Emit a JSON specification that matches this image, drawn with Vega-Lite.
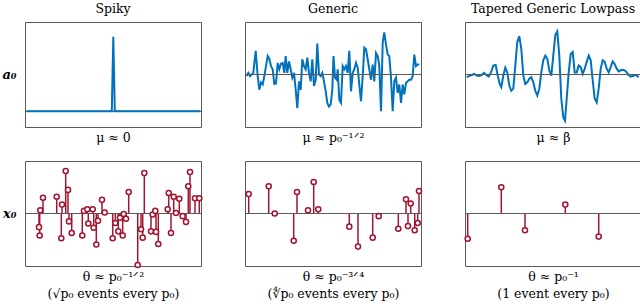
{
  "$schema": "https://vega.github.io/schema/vega-lite/v6.json",
  "padding": {"left": 1, "top": 2, "right": 0, "bottom": 2},
  "config": {
    "font": "DejaVu Serif",
    "view": {"stroke": "#5a5a5a", "strokeWidth": 1},
    "title": {"font": "DejaVu Serif", "fontSize": 12.5, "fontWeight": "normal", "color": "#000", "offset": 7},
    "axis": {"domain": false, "ticks": false, "labels": false, "grid": false, "titleFont": "DejaVu Serif", "titleFontWeight": "normal", "titleFontSize": 12.5, "titleColor": "#000", "titlePadding": 4, "titleLineHeight": 17}
  },
  "datasets": {
    "spiky": [
      {"x": 1.7, "y": 0}, {"x": 86.8, "y": 0}, {"x": 88.3, "y": 1}, {"x": 89.8, "y": 0}, {"x": 175, "y": 0}
    ],
    "generic": [
      {"x": 1.7, "y": -0.03}, {"x": 3.3, "y": 0.03}, {"x": 5, "y": -0.03}, {"x": 6.7, "y": 0}, {"x": 8.3, "y": 0.03},
      {"x": 10.7, "y": 0.45}, {"x": 12.7, "y": -0.03}, {"x": 14.3, "y": -0.29}, {"x": 16, "y": -0.15}, {"x": 17.7, "y": -0.19},
      {"x": 19.3, "y": -0.03}, {"x": 21, "y": 0.16}, {"x": 22.7, "y": 0.35}, {"x": 24.3, "y": 0.3}, {"x": 26, "y": 0.16},
      {"x": 27.7, "y": 0.1}, {"x": 29.3, "y": -0.18}, {"x": 31, "y": -0.17}, {"x": 32.7, "y": 0.22}, {"x": 34.3, "y": 0.1},
      {"x": 36, "y": 0.21}, {"x": 37.7, "y": 0.22}, {"x": 39.3, "y": 0.03}, {"x": 40.7, "y": 0.35}, {"x": 42.3, "y": 0.03},
      {"x": 44, "y": 0.25}, {"x": 45.7, "y": 0.1}, {"x": 47.3, "y": -0.06}, {"x": 49, "y": 0.03}, {"x": 50.7, "y": -0.29},
      {"x": 52.3, "y": -0.64}, {"x": 54, "y": -0.13}, {"x": 55.7, "y": -0.29}, {"x": 57.3, "y": 0.29}, {"x": 59, "y": 0.16},
      {"x": 60.7, "y": 0.1}, {"x": 62.3, "y": 0.32}, {"x": 64, "y": 0.03}, {"x": 65.7, "y": -0.13}, {"x": 67.3, "y": 0.29},
      {"x": 69, "y": -0.22}, {"x": 70.7, "y": -0.1}, {"x": 72.3, "y": 0.59}, {"x": 74, "y": 0}, {"x": 75.7, "y": -0.03},
      {"x": 77.3, "y": 0.03}, {"x": 79, "y": -0.13}, {"x": 80.7, "y": -0.32}, {"x": 82.3, "y": -0.54}, {"x": 84, "y": -0.61},
      {"x": 85.7, "y": -0.57}, {"x": 87.3, "y": -0.29}, {"x": 88.5, "y": 0.35}, {"x": 90, "y": -0.06}, {"x": 91.7, "y": -0.1},
      {"x": 92.7, "y": 0.1}, {"x": 94.3, "y": -0.48}, {"x": 96, "y": -0.54}, {"x": 97.7, "y": 0.16}, {"x": 99.3, "y": 0.1},
      {"x": 101, "y": 0.16}, {"x": 102.7, "y": 0.03}, {"x": 104.3, "y": 0.45}, {"x": 106, "y": -0.32}, {"x": 107.7, "y": 0.03},
      {"x": 109.3, "y": 0.1}, {"x": 111, "y": 0.22}, {"x": 112.7, "y": 0.13}, {"x": 114.3, "y": -0.19}, {"x": 116, "y": -0.51},
      {"x": 117.7, "y": -0.03}, {"x": 119.3, "y": 0.51}, {"x": 121, "y": 0.48}, {"x": 122.7, "y": 0.29}, {"x": 124.3, "y": 0.1},
      {"x": 126, "y": -0.1}, {"x": 127.7, "y": 0.19}, {"x": 129.3, "y": -0.13}, {"x": 131, "y": 0.41}, {"x": 132.7, "y": 0.35},
      {"x": 134.3, "y": 0.16}, {"x": 136, "y": -0.7}, {"x": 137.7, "y": 0.61}, {"x": 139.3, "y": 0.8}, {"x": 141, "y": 0.57},
      {"x": 142.7, "y": 0.38}, {"x": 144.3, "y": 0.35}, {"x": 146, "y": -0.06}, {"x": 147.7, "y": -0.7}, {"x": 149.3, "y": -0.13},
      {"x": 151, "y": -0.06}, {"x": 152.7, "y": -0.35}, {"x": 154.3, "y": -0.19}, {"x": 156, "y": -0.54}, {"x": 157.7, "y": -0.19},
      {"x": 159.3, "y": -0.38}, {"x": 161, "y": -0.16}, {"x": 162.7, "y": -0.13}, {"x": 164.3, "y": -0.1}, {"x": 166, "y": -0.1},
      {"x": 167.7, "y": -0.03}, {"x": 169.3, "y": 0.38}, {"x": 171, "y": 0.16}, {"x": 172.7, "y": 0.19}, {"x": 174.3, "y": 0.19}
    ],
    "tapered": [
      {"x": 1.7, "y": -0.05}, {"x": 4, "y": -0.03}, {"x": 6.7, "y": -0.01}, {"x": 9.3, "y": 0.01}, {"x": 11.7, "y": -0.02},
      {"x": 14, "y": -0.03}, {"x": 16.7, "y": -0.01}, {"x": 19, "y": 0.03}, {"x": 21.3, "y": -0.01}, {"x": 23.7, "y": -0.04},
      {"x": 26, "y": 0.04}, {"x": 28.3, "y": 0.17}, {"x": 30.7, "y": 0.18}, {"x": 32.7, "y": -0.02}, {"x": 34.7, "y": -0.18},
      {"x": 36.3, "y": -0.24}, {"x": 38.3, "y": -0.02}, {"x": 40.3, "y": 0.13}, {"x": 42.3, "y": 0.04}, {"x": 44.3, "y": -0.21},
      {"x": 46.3, "y": -0.31}, {"x": 48.3, "y": -0.27}, {"x": 50.3, "y": 0.17}, {"x": 52.3, "y": 0.62}, {"x": 54.3, "y": 0.73},
      {"x": 56.3, "y": 0.49}, {"x": 58.3, "y": -0.02}, {"x": 60.3, "y": -0.18}, {"x": 62.3, "y": -0.15}, {"x": 64.3, "y": -0.08},
      {"x": 66.3, "y": -0.05}, {"x": 68.3, "y": -0.15}, {"x": 70.3, "y": -0.31}, {"x": 72.3, "y": -0.4}, {"x": 74.3, "y": -0.27},
      {"x": 76.3, "y": 0.04}, {"x": 78.3, "y": 0.27}, {"x": 80.3, "y": 0.36}, {"x": 82.3, "y": 0.3}, {"x": 84.3, "y": 0.08},
      {"x": 86.3, "y": -0.02}, {"x": 88.3, "y": 0.36}, {"x": 90.3, "y": 0.75}, {"x": 92.3, "y": 0.82}, {"x": 94.3, "y": 0.36},
      {"x": 96.3, "y": -0.46}, {"x": 98.3, "y": -0.82}, {"x": 100, "y": -0.88}, {"x": 101.7, "y": -0.46}, {"x": 103.7, "y": 0.04},
      {"x": 105.7, "y": 0.39}, {"x": 107.7, "y": 0.43}, {"x": 109.7, "y": 0.04}, {"x": 111.7, "y": 0.04}, {"x": 113.7, "y": 0.17},
      {"x": 115.7, "y": 0.14}, {"x": 117.7, "y": 0.01}, {"x": 119.7, "y": 0.11}, {"x": 121.7, "y": 0.24}, {"x": 123.7, "y": 0.36},
      {"x": 125.7, "y": 0.27}, {"x": 127.7, "y": -0.11}, {"x": 129.7, "y": -0.46}, {"x": 131.7, "y": -0.53}, {"x": 133.7, "y": -0.27},
      {"x": 135.7, "y": 0.11}, {"x": 137.7, "y": 0.27}, {"x": 139.7, "y": 0.24}, {"x": 141.7, "y": 0.11}, {"x": 143.7, "y": 0.04},
      {"x": 145.7, "y": 0.14}, {"x": 147.7, "y": 0.25}, {"x": 149.7, "y": 0.2}, {"x": 151.7, "y": 0.11}, {"x": 153.7, "y": 0.06},
      {"x": 155.7, "y": 0.08}, {"x": 157.7, "y": 0.09}, {"x": 159.7, "y": 0.08}, {"x": 161.7, "y": 0.04}, {"x": 163.7, "y": -0.01},
      {"x": 165.7, "y": -0.04}, {"x": 167.7, "y": -0.03}, {"x": 169.7, "y": -0.01}, {"x": 171.7, "y": -0.02}, {"x": 173.7, "y": -0.05}
    ],
    "spikyEvents": [
      {"x": 14, "y": -0.26}, {"x": 14.7, "y": -0.42}, {"x": 15.3, "y": 0.06}, {"x": 18, "y": 0.3}, {"x": 31.7, "y": 0.32},
      {"x": 36.3, "y": -0.47}, {"x": 37, "y": 0.17}, {"x": 40.7, "y": 0.81}, {"x": 43, "y": 0.45}, {"x": 44, "y": -0.15},
      {"x": 46.7, "y": -0.37}, {"x": 57.3, "y": -0.42}, {"x": 59, "y": 0.05}, {"x": 62.3, "y": 0.08}, {"x": 63.3, "y": -0.19},
      {"x": 67.7, "y": 0.08}, {"x": 68.7, "y": -0.27}, {"x": 71.3, "y": -0.59}, {"x": 73, "y": -0.14}, {"x": 77, "y": 0.26},
      {"x": 79.7, "y": 0.02}, {"x": 87.7, "y": -0.47}, {"x": 90.3, "y": -0.18}, {"x": 93.3, "y": -0.34}, {"x": 95, "y": -0.08},
      {"x": 97.7, "y": -0.42}, {"x": 98.7, "y": -0.01}, {"x": 101, "y": -0.1}, {"x": 103.7, "y": 0.41}, {"x": 112.7, "y": -0.98},
      {"x": 116, "y": -0.3}, {"x": 117.7, "y": -0.46}, {"x": 119.3, "y": 0.77}, {"x": 126, "y": -0.34}, {"x": 127.7, "y": -0.02},
      {"x": 130.3, "y": 0.05}, {"x": 131, "y": -0.35}, {"x": 133.3, "y": -0.58}, {"x": 142.7, "y": 0.08}, {"x": 143.7, "y": 0.39},
      {"x": 146, "y": -0.37}, {"x": 148.7, "y": 0.32}, {"x": 151, "y": 0.01}, {"x": 154.3, "y": 0.28}, {"x": 157.7, "y": -0.05},
      {"x": 161, "y": -0.16}, {"x": 163.3, "y": 0.52}, {"x": 165, "y": 0.79}, {"x": 170, "y": 0.29}, {"x": 174.3, "y": 0.29}
    ],
    "genericEvents": [
      {"x": 3.7, "y": 0.37}, {"x": 23.7, "y": 0.52}, {"x": 29.7, "y": 0}, {"x": 48.7, "y": -0.52}, {"x": 52, "y": 0.41},
      {"x": 63, "y": 0.06}, {"x": 68.7, "y": 0.6}, {"x": 73.3, "y": 0.08}, {"x": 104.3, "y": -0.25}, {"x": 113, "y": -0.63},
      {"x": 127.7, "y": -0.46}, {"x": 133.7, "y": -0.05}, {"x": 153.3, "y": -0.29}, {"x": 161, "y": 0.27}, {"x": 163, "y": -0.24},
      {"x": 165.7, "y": 0.19}, {"x": 169.7, "y": -0.32}, {"x": 172.7, "y": -0.18}, {"x": 174, "y": 0.43}
    ],
    "taperedEvents": [
      {"x": 2.7, "y": -0.48}, {"x": 36.3, "y": 0.5}, {"x": 60, "y": -0.32}, {"x": 100.3, "y": 0.17}, {"x": 133.7, "y": -0.44}
    ],
    "zero": [{"y": 0}]
  },
  "bounds": "flush",
  "columns": 3,
  "spacing": {"row": 34, "column": 44},
  "concat": [
    {
      "width": 176, "height": 105,
      "title": "Spiky",
      "layer": [
        {"data": {"name": "zero"}, "mark": {"type": "rule", "color": "#5a5a5a", "strokeWidth": 1.2},
          "encoding": {"y": {"field": "y", "type": "quantitative", "scale": {"domain": [-0.21, 1.2], "nice": false}, "axis": {"title": "a₀", "titleAngle": 0, "titleAlign": "right", "titleBaseline": "middle", "titlePadding": 9, "titleFontStyle": "italic", "titleFontWeight": "bold", "titleFontSize": 13}}}},
        {"data": {"name": "spiky"}, "mark": {"type": "line", "color": "#0072BD", "strokeWidth": 2},
          "encoding": {
            "x": {"field": "x", "type": "quantitative", "scale": {"domain": [0, 176], "nice": false}, "axis": {"title": "μ ≈ 0"}},
            "y": {"field": "y", "type": "quantitative"}
          }}
      ]
    },
    {
      "width": 176, "height": 105,
      "title": "Generic",
      "layer": [
        {"data": {"name": "generic"}, "mark": {"type": "line", "color": "#0072BD", "strokeWidth": 2},
          "encoding": {
            "x": {"field": "x", "type": "quantitative", "scale": {"domain": [0, 176], "nice": false}, "axis": {"title": "μ ≈ p₀⁻¹ᐟ²"}},
            "y": {"field": "y", "type": "quantitative", "scale": {"domain": [-1, 1], "nice": false}, "axis": null}
          }},
        {"data": {"name": "zero"}, "mark": {"type": "rule", "color": "#5a5a5a", "strokeWidth": 1.2}, "encoding": {"y": {"field": "y", "type": "quantitative"}}}
      ]
    },
    {
      "width": 176, "height": 105,
      "title": "Tapered Generic Lowpass",
      "layer": [
        {"data": {"name": "tapered"}, "mark": {"type": "line", "color": "#0072BD", "strokeWidth": 2},
          "encoding": {
            "x": {"field": "x", "type": "quantitative", "scale": {"domain": [0, 176], "nice": false}, "axis": {"title": "μ ≈ β"}},
            "y": {"field": "y", "type": "quantitative", "scale": {"domain": [-1, 1], "nice": false}, "axis": null}
          }},
        {"data": {"name": "zero"}, "mark": {"type": "rule", "color": "#5a5a5a", "strokeWidth": 1.2}, "encoding": {"y": {"field": "y", "type": "quantitative"}}}
      ]
    },
    {
      "width": 176, "height": 105,
      "layer": [
        {"data": {"name": "spikyEvents"}, "mark": {"type": "rule", "color": "#A2142F", "strokeWidth": 1.5},
          "encoding": {
            "x": {"field": "x", "type": "quantitative", "scale": {"domain": [0, 176], "nice": false}, "axis": {"title": ["θ ≈ p₀⁻¹ᐟ²", "(√p₀ events every p₀)"]}},
            "y": {"field": "y", "type": "quantitative", "scale": {"domain": [-1, 1], "nice": false}, "axis": {"title": "x₀", "titleAngle": 0, "titleAlign": "right", "titleBaseline": "middle", "titlePadding": 9, "titleFontStyle": "italic", "titleFontWeight": "bold", "titleFontSize": 13}},
            "y2": {"datum": 0}
          }},
        {"data": {"name": "zero"}, "mark": {"type": "rule", "color": "#5a5a5a", "strokeWidth": 1.2}, "encoding": {"y": {"field": "y", "type": "quantitative"}}},
        {"data": {"name": "spikyEvents"}, "mark": {"type": "point", "shape": "circle", "filled": true, "fill": "white", "stroke": "#A2142F", "strokeWidth": 1.5, "size": 26, "opacity": 1},
          "encoding": {"x": {"field": "x", "type": "quantitative"}, "y": {"field": "y", "type": "quantitative"}}}
      ]
    },
    {
      "width": 176, "height": 105,
      "layer": [
        {"data": {"name": "genericEvents"}, "mark": {"type": "rule", "color": "#A2142F", "strokeWidth": 1.5},
          "encoding": {
            "x": {"field": "x", "type": "quantitative", "scale": {"domain": [0, 176], "nice": false}, "axis": {"title": ["θ ≈ p₀⁻³ᐟ⁴", "(∜p₀ events every p₀)"]}},
            "y": {"field": "y", "type": "quantitative", "scale": {"domain": [-1, 1], "nice": false}, "axis": null},
            "y2": {"datum": 0}
          }},
        {"data": {"name": "zero"}, "mark": {"type": "rule", "color": "#5a5a5a", "strokeWidth": 1.2}, "encoding": {"y": {"field": "y", "type": "quantitative"}}},
        {"data": {"name": "genericEvents"}, "mark": {"type": "point", "shape": "circle", "filled": true, "fill": "white", "stroke": "#A2142F", "strokeWidth": 1.5, "size": 26, "opacity": 1},
          "encoding": {"x": {"field": "x", "type": "quantitative"}, "y": {"field": "y", "type": "quantitative"}}}
      ]
    },
    {
      "width": 176, "height": 105,
      "layer": [
        {"data": {"name": "taperedEvents"}, "mark": {"type": "rule", "color": "#A2142F", "strokeWidth": 1.5},
          "encoding": {
            "x": {"field": "x", "type": "quantitative", "scale": {"domain": [0, 176], "nice": false}, "axis": {"title": ["θ ≈ p₀⁻¹", "(1 event every p₀)"]}},
            "y": {"field": "y", "type": "quantitative", "scale": {"domain": [-1, 1], "nice": false}, "axis": null},
            "y2": {"datum": 0}
          }},
        {"data": {"name": "zero"}, "mark": {"type": "rule", "color": "#5a5a5a", "strokeWidth": 1.2}, "encoding": {"y": {"field": "y", "type": "quantitative"}}},
        {"data": {"name": "taperedEvents"}, "mark": {"type": "point", "shape": "circle", "filled": true, "fill": "white", "stroke": "#A2142F", "strokeWidth": 1.5, "size": 26, "opacity": 1},
          "encoding": {"x": {"field": "x", "type": "quantitative"}, "y": {"field": "y", "type": "quantitative"}}}
      ]
    }
  ]
}
